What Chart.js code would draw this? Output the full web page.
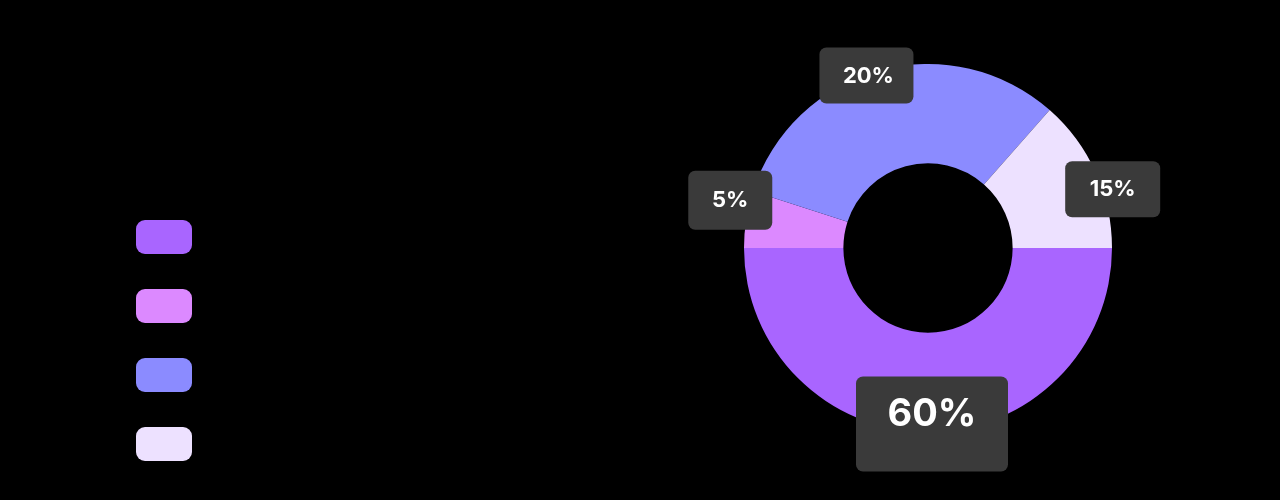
<!DOCTYPE html>
<html>
<head>
<meta charset="utf-8">
<script src="https://cdn.jsdelivr.net/npm/chart.js@4"></script>
<style>
  html, body { margin:0; padding:0; background:#000; }
  #wrap { position:relative; width:1280px; height:500px; overflow:hidden; }
  #c { position:absolute; left:0; top:0; }
  #legend { position:absolute; left:136px; top:220px; display:flex; flex-direction:column; gap:35px; font-family:'Inter',sans-serif; font-size:18px; color:#000; }
  .item { display:flex; align-items:center; height:34px; }
  .sw { width:56px; height:34px; border-radius:9px; margin-right:20px; }
</style>
</head>
<body>
<div id="wrap">
  <canvas id="c" width="1280" height="500"></canvas>
  <div id="legend"></div>
</div>
<script>
// Data
const categories = ['Segment 1', 'Segment 2', 'Segment 3', 'Segment 4'];
const sliceValues = [50, 5, 31.5, 13.5];
const valueLabels = ['60%', '5%', '20%', '15%'];
const colors = ['#A965FF', '#DC89FF', '#8B8BFF', '#EDE1FF'];

// HTML legend (labels are dark on dark background, as in the reference)
const lg = document.getElementById('legend');
categories.forEach((c, i) => {
  const it = document.createElement('div'); it.className = 'item';
  const sw = document.createElement('div'); sw.className = 'sw'; sw.style.background = colors[i];
  const tx = document.createElement('span'); tx.textContent = c;
  it.appendChild(sw); it.appendChild(tx); lg.appendChild(it);
});

const labelBoxes = {
  id: 'labelBoxes',
  afterDatasetsDraw(chart, args, opts) {
    const ctx = chart.ctx;
    const meta = chart.getDatasetMeta(0);
    meta.data.forEach((arc, i) => {
      const p = arc.getProps(['x','y','startAngle','endAngle','outerRadius'], true);
      const mid = (p.startAngle + p.endAngle) / 2;
      const nx = opts.nudge[i][0], ny = opts.nudge[i][1];
      const cx = p.x + Math.cos(mid) * p.outerRadius + nx;
      const cy = p.y + Math.sin(mid) * p.outerRadius + ny;
      const w = opts.size[i][0], h = opts.size[i][1];
      ctx.save();
      ctx.fillStyle = '#3a3a3a';
      ctx.beginPath();
      ctx.roundRect(cx - w/2, cy - h/2, w, h, 7);
      ctx.fill();
      ctx.fillStyle = '#ffffff';
      ctx.font = '700 ' + opts.fontSize[i] + 'px Inter, "Open Sans", sans-serif';
      ctx.textAlign = 'center';
      ctx.textBaseline = 'middle';
      ctx.fillText(valueLabels[i], cx + opts.textDx[i], cy + opts.textDy[i]);
      ctx.restore();
    });
  }
};

new Chart(document.getElementById('c'), {
  type: 'doughnut',
  data: {
    labels: categories,
    datasets: [{
      data: sliceValues,
      backgroundColor: colors,
      borderWidth: 0,
      hoverOffset: 0
    }]
  },
  options: {
    responsive: false,
    animation: false,
    rotation: 90,
    cutout: '46%',
    layout: { padding: { left: 744, right: 168, top: 64, bottom: 68 } },
    plugins: {
      legend: { display: false },
      tooltip: { enabled: false },
      labelBoxes: {
        nudge: [[4, -8], [-16, -19], [-13, 5], [17, 17]],
        size: [[152, 95], [84, 59], [94, 56], [95, 56]],
        fontSize: [38, 22, 22, 22],
        textDx: [0, 0, 2, 0],
        textDy: [-9, 0, 1, 0]
      }
    }
  },
  plugins: [labelBoxes]
});
</script>
</body>
</html>
